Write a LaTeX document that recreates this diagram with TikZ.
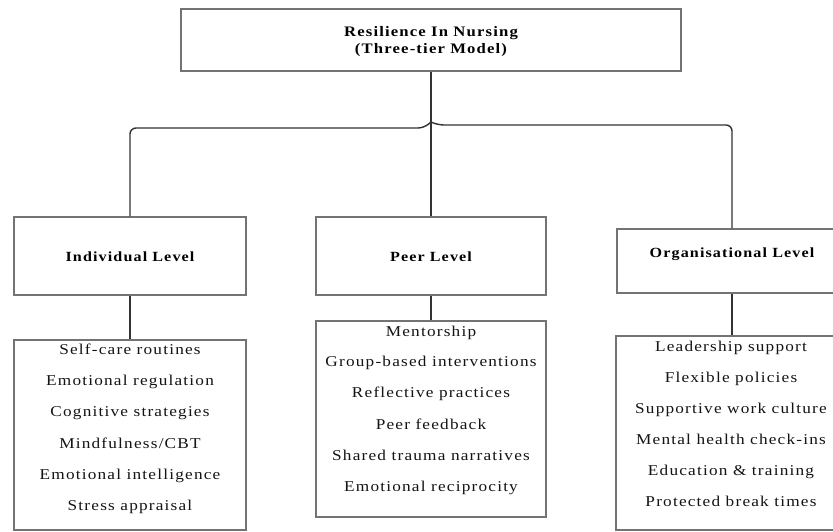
\documentclass[tikz,border=0pt]{standalone}
\usepackage{fontspec}
\setmainfont{Liberation Serif}[FakeStretch=1.15,LetterSpace=8]
\begin{document}
\begin{tikzpicture}[x=1pt,y=-1pt,
  box/.style={draw=black!55, line width=1.1pt, inner sep=0pt, fill=white},
  conn/.style={draw=black!80, line width=1.4pt},
  lbl/.style={font=\fontsize{14}{17}\selectfont\bfseries, text=black},
  item/.style={font=\fontsize{15}{18}\selectfont, anchor=base, inner sep=0pt, text=black!92}]
\useasboundingbox (0,0) rectangle (833,531);
\clip (0,0) rectangle (833,531);
% boxes
\node[box, minimum width=500pt, minimum height=62pt] (top) at (431,40) {};
\node[lbl, align=center, font=\fontsize{14.5}{17}\selectfont\bfseries] (title) at (431,42) {Resilience In Nursing\\(Three-tier Model)};
\node[box, minimum width=232pt, minimum height=78pt] (ind) at (130,256) {};
\node[lbl] (indlbl) at (130,257) {Individual Level};
\node[box, minimum width=230pt, minimum height=78pt] (peer) at (431,256) {};
\node[lbl] (peerlbl) at (431,257) {Peer Level};
\node[box, minimum width=230pt, minimum height=64pt] (org) at (732,261) {};
\node[lbl] (orglbl) at (732,254) {Organisational Level};
\node[box, minimum width=232pt, minimum height=190pt] (indbox) at (130,435) {};
\node[box, minimum width=230pt, minimum height=196pt] (peerbox) at (431,419) {};
\node[box, minimum width=232pt, minimum height=194pt] (orgbox) at (732,433) {};
% list items
\node[item] (i1) at (130,354) {Self-care routines};
\node[item] (i2) at (130,385) {Emotional regulation};
\node[item] (i3) at (130,416) {Cognitive strategies};
\node[item] (i4) at (130,448) {Mindfulness/CBT};
\node[item] (i5) at (130,479) {Emotional intelligence};
\node[item] (i6) at (130,510) {Stress appraisal};
\node[item] (p1) at (431,336) {Mentorship};
\node[item] (p2) at (431,366) {Group-based interventions};
\node[item] (p3) at (431,397) {Reflective practices};
\node[item] (p4) at (431,429) {Peer feedback};
\node[item] (p5) at (431,460) {Shared trauma narratives};
\node[item] (p6) at (431,491) {Emotional reciprocity};
\node[item] (o1) at (731,351) {Leadership support};
\node[item] (o2) at (731,382) {Flexible policies};
\node[item] (o3) at (731,413) {Supportive work culture};
\node[item] (o4) at (731,444) {Mental health check-ins};
\node[item] (o5) at (731,475) {Education \& training};
\node[item] (o6) at (731,506) {Protected break times};
% connectors
\coordinate (jn) at (431,122);
\draw[conn] (top.south) -- (peer.north);
\draw[conn, rounded corners=6pt] (ind.north) |- (424,128) -- (jn);
\draw[conn, rounded corners=6pt] (org.north) |- (438,125) -- (jn);
\draw[conn] (ind.south) -- (indbox.north);
\draw[conn] (peer.south) -- (peerbox.north);
\draw[conn] (org.south) -- (orgbox.north);
\end{tikzpicture}
\end{document}
